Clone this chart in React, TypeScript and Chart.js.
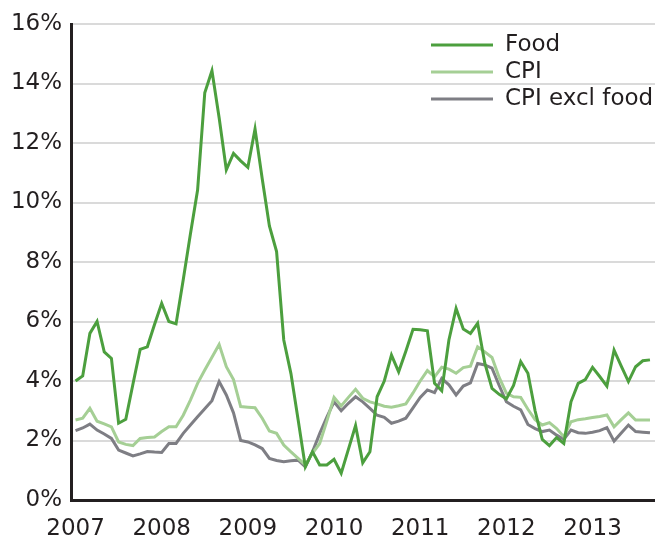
import React, { useEffect, useRef } from "react";
import { Chart, registerables } from "chart.js";

Chart.register(...registerables);

const startYear = 2007;
const yearTicks = [2007, 2008, 2009, 2010, 2011, 2012, 2013];
const seriesNames = ["Food", "CPI", "CPI excl food"];
const seriesColors = ["#4c9f3e", "#a5cf95", "#7e7e84"];

// Monthly year-on-year inflation, Jan 2007 .. Sep 2013 (%)
const food = [
  4.0, 4.17, 5.6, 6.0, 4.98, 4.76, 2.58, 2.71, 3.9, 5.06,
  5.15, 5.9, 6.61, 6.0, 5.92, 7.4, 8.94, 10.42, 13.69, 14.43,
  12.85, 11.1, 11.65, 11.4, 11.18, 12.47, 10.8, 9.21, 8.35, 5.38,
  4.25, 2.7, 1.12, 1.62, 1.18, 1.18, 1.37, 0.9, 1.7, 2.5,
  1.25, 1.62, 3.47, 4.0, 4.87, 4.31, 5.0, 5.74, 5.72, 5.69,
  3.92, 3.67, 5.38, 6.44, 5.75, 5.6, 5.94, 4.6, 3.75, 3.55,
  3.4, 3.85, 4.65, 4.26, 3.0, 2.04, 1.83, 2.1, 1.9, 3.3,
  3.92, 4.05, 4.46, 4.15, 3.83, 5.04, 4.5, 3.98, 4.48, 4.68, 4.71,
];
const cpi = [
  2.69, 2.75, 3.08, 2.65, 2.56, 2.46, 1.95, 1.87, 1.83, 2.07,
  2.1, 2.12, 2.3, 2.46, 2.46, 2.85, 3.36, 3.92, 4.37, 4.8,
  5.23, 4.48, 4.05, 3.14, 3.12, 3.1, 2.75, 2.32, 2.24, 1.85,
  1.62, 1.4, 1.18, 1.57, 1.9, 2.65, 3.45, 3.16, 3.45, 3.72,
  3.42, 3.3, 3.23, 3.15, 3.12, 3.17, 3.23, 3.6, 4.0, 4.35,
  4.14, 4.46, 4.4, 4.26, 4.45, 4.5, 5.15, 4.98, 4.79, 4.12,
  3.59, 3.47, 3.45, 3.05, 2.7, 2.52, 2.6, 2.4, 2.13, 2.63,
  2.7, 2.73, 2.77, 2.81, 2.86, 2.46, 2.7, 2.93, 2.69, 2.69, 2.69,
];
const cpiExclFood = [
  2.33, 2.42, 2.55, 2.35, 2.22, 2.07, 1.68, 1.58, 1.48, 1.55,
  1.63, 1.61, 1.6, 1.9, 1.9, 2.24, 2.52, 2.8, 3.07, 3.34,
  3.98, 3.53, 2.93, 2.0, 1.95, 1.85, 1.73, 1.4, 1.33, 1.29,
  1.32, 1.34, 1.12, 1.62, 2.23, 2.79, 3.3, 3.0, 3.25, 3.47,
  3.3, 3.08, 2.85, 2.78, 2.58, 2.65, 2.75, 3.1, 3.45, 3.7,
  3.61, 4.09, 3.87, 3.53, 3.83, 3.94, 4.59, 4.54, 4.43, 3.85,
  3.3, 3.15, 3.03, 2.54, 2.4, 2.3, 2.35, 2.18, 2.04, 2.35,
  2.26, 2.24, 2.28, 2.33, 2.43, 1.98, 2.25, 2.52, 2.3, 2.28, 2.26,
];

const FONT = "'DejaVu Sans', sans-serif";
const TEXT = "#231f20";

const toPoints = (arr: number[]) => arr.map((v, i) => ({ x: startYear + i / 12, y: v }));

const legendPlugin = {
  id: "insideLegend",
  afterDraw(chart: any) {
    const { ctx, chartArea } = chart;
    ctx.save();
    ctx.font = `23px ${FONT}`;
    ctx.textBaseline = "middle";
    ctx.textAlign = "left";
    chart.data.datasets.forEach((ds: any, i: number) => {
      const y = chartArea.top + 21 + i * 27;
      const x0 = chartArea.right - 224;
      ctx.strokeStyle = ds.borderColor;
      ctx.lineWidth = 3;
      ctx.beginPath();
      ctx.moveTo(x0, y);
      ctx.lineTo(x0 + 62, y);
      ctx.stroke();
      ctx.fillStyle = TEXT;
      ctx.fillText(ds.label, x0 + 74, y);
    });
    ctx.restore();
  },
};

export default function App() {
  const ref = useRef<HTMLCanvasElement | null>(null);

  useEffect(() => {
    if (!ref.current) return;
    const series = [food, cpi, cpiExclFood];
    const chart = new Chart(ref.current, {
      type: "line",
      data: {
        datasets: series.map((s, i) => ({
          label: seriesNames[i],
          data: toPoints(s),
          borderColor: seriesColors[i],
          backgroundColor: seriesColors[i],
          borderWidth: 3,
          pointRadius: 0,
          tension: 0,
          fill: false,
        })),
      },
      options: {
        responsive: false,
        animation: false,
        devicePixelRatio: 1,
        layout: { padding: { top: 24, right: 0, left: 0, bottom: 0 } },
        plugins: { legend: { display: false }, tooltip: { enabled: false } },
        scales: {
          x: {
            type: "linear",
            min: startYear - 0.63 / 12,
            max: startYear + 80.7 / 12,
            afterBuildTicks: (scale: any) => {
              scale.ticks = yearTicks.map((v) => ({ value: v }));
            },
            afterFit: (scale: any) => {
              scale.height = 41;
            },
            grid: { display: false, drawTicks: false },
            border: { display: true, color: "#231f20", width: 3 },
            ticks: {
              autoSkip: false,
              maxRotation: 0,
              padding: 15,
              color: TEXT,
              font: { family: FONT, size: 23 },
              callback: (v: any) => String(v),
            },
          },
          y: {
            min: 0,
            max: 16,
            afterFit: (scale: any) => {
              scale.width = 71;
            },
            grid: {
              color: (c: any) => (c.tick && c.tick.value === 0 ? "rgba(0,0,0,0)" : "#dadada"),
              lineWidth: 2,
              drawTicks: false,
            },
            border: { display: true, color: "#231f20", width: 3 },
            ticks: {
              stepSize: 2,
              padding: 9,
              color: TEXT,
              font: { family: FONT, size: 23 },
              callback: (v: any) => `${v}%`,
            },
          },
        },
      },
      plugins: [legendPlugin],
    } as any);
    return () => chart.destroy();
  }, []);

  return (
    <div style={{ position: "absolute", left: 0, top: 0, width: 655, height: 541, background: "#fff" }}>
      <canvas ref={ref} width={655} height={541} style={{ display: "block" }} />
    </div>
  );
}
